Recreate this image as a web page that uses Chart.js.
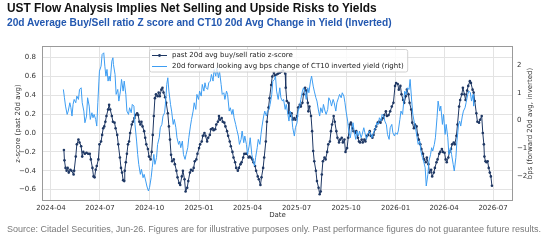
<!DOCTYPE html>
<html><head><meta charset="utf-8">
<script src="https://cdn.jsdelivr.net/npm/chart.js@4.4.1/dist/chart.umd.min.js"></script>
<style>
html,body{margin:0;padding:0;background:#fff;}
#wrap{position:relative;width:550px;height:249px;overflow:hidden;background:#fff;}
canvas{position:absolute;left:0;top:0;}
.t{position:absolute;left:7px;white-space:nowrap;line-height:1;font-family:"Liberation Sans",Arial,sans-serif;}
#title{font-weight:bold;color:#111;}
#sub{font-weight:bold;color:#2358b0;}
#foot{color:#7a7a7a;}
</style></head>
<body><div id="wrap"><canvas id="c" width="550" height="249"></canvas>
<div class="t" id="title">UST Flow Analysis Implies Net Selling and Upside Risks to Yields</div>
<div class="t" id="sub">20d Average Buy/Sell ratio Z score and CT10 20d Avg Change in Yield (Inverted)</div>
<div class="t" id="foot">Source: Citadel Securities, Jun-26. Figures are for illustrative purposes only. Past performance figures do not guarantee future results.</div>
</div>
<script>
const xTickLabels = ['2024-04','2024-07','2024-10','2025-01','2025-04','2025-07','2025-10','2026-01','2026-04','2026-07'];
const leftTicks = [-0.6,-0.4,-0.2,0.0,0.2,0.4,0.6,0.8];
const rightTicks = [-2,-1,0,1,2];

const darkDates = ['2024-04-25','2024-04-26','2024-04-28','2024-04-30','2024-05-02','2024-05-04','2024-05-07','2024-05-09','2024-05-13','2024-05-14','2024-05-17','2024-05-19','2024-05-22','2024-05-24','2024-05-27','2024-05-29','2024-05-31','2024-06-03','2024-06-06','2024-06-09','2024-06-12','2024-06-14','2024-06-17','2024-06-19','2024-06-21','2024-06-23','2024-06-25','2024-06-28','2024-06-30','2024-07-03','2024-07-05','2024-07-07','2024-07-09','2024-07-11','2024-07-13','2024-07-16','2024-07-18','2024-07-20','2024-07-23','2024-07-25','2024-07-28','2024-07-30','2024-08-02','2024-08-04','2024-08-07','2024-08-09','2024-08-11','2024-08-13','2024-08-15','2024-08-16','2024-08-18','2024-08-20','2024-08-22','2024-08-24','2024-08-26','2024-08-29','2024-08-31','2024-09-03','2024-09-05','2024-09-08','2024-09-10','2024-09-12','2024-09-14','2024-09-16','2024-09-18','2024-09-21','2024-09-23','2024-09-25','2024-09-28','2024-09-30','2024-10-03','2024-10-05','2024-10-07','2024-10-09','2024-10-11','2024-10-13','2024-10-16','2024-10-18','2024-10-20','2024-10-23','2024-10-25','2024-10-27','2024-10-30','2024-11-01','2024-11-04','2024-11-06','2024-11-08','2024-11-10','2024-11-12','2024-11-15','2024-11-17','2024-11-20','2024-11-22','2024-11-25','2024-11-27','2024-11-30','2024-12-02','2024-12-05','2024-12-07','2024-12-10','2024-12-12','2024-12-15','2024-12-17','2024-12-20','2024-12-22','2024-12-24','2024-12-27','2024-12-29','2025-01-01','2025-01-03','2025-01-06','2025-01-08','2025-01-11','2025-01-13','2025-01-16','2025-01-18','2025-01-21','2025-01-23','2025-01-26','2025-01-28','2025-01-31','2025-02-02','2025-02-05','2025-02-07','2025-02-09','2025-02-12','2025-02-14','2025-02-17','2025-02-19','2025-02-22','2025-02-24','2025-02-27','2025-03-01','2025-03-04','2025-03-06','2025-03-09','2025-03-11','2025-03-14','2025-03-16','2025-03-19','2025-03-21','2025-03-24','2025-03-26','2025-03-29','2025-03-31','2025-04-03','2025-04-05','2025-04-07','2025-04-10','2025-04-12','2025-04-15','2025-04-17','2025-04-20','2025-04-22','2025-04-25','2025-04-27','2025-04-30','2025-05-02','2025-05-05','2025-05-07','2025-05-10','2025-05-12','2025-05-15','2025-05-17','2025-05-20','2025-05-22','2025-05-25','2025-05-28','2025-05-31','2025-06-03','2025-06-06','2025-06-10','2025-06-11','2025-06-13','2025-06-16','2025-06-17','2025-06-19','2025-06-22','2025-06-24','2025-06-27','2025-06-29','2025-07-02','2025-07-04','2025-07-07','2025-07-09','2025-07-12','2025-07-14','2025-07-17','2025-07-19','2025-07-22','2025-07-23','2025-07-25','2025-07-28','2025-07-30','2025-08-01','2025-08-03','2025-08-06','2025-08-08','2025-08-11','2025-08-13','2025-08-15','2025-08-17','2025-08-19','2025-08-22','2025-08-24','2025-08-27','2025-08-29','2025-09-01','2025-09-03','2025-09-05','2025-09-08','2025-09-10','2025-09-13','2025-09-15','2025-09-18','2025-09-20','2025-09-23','2025-09-25','2025-09-28','2025-09-30','2025-10-03','2025-10-05','2025-10-08','2025-10-10','2025-10-13','2025-10-15','2025-10-18','2025-10-20','2025-10-23','2025-10-25','2025-10-27','2025-10-30','2025-11-01','2025-11-04','2025-11-06','2025-11-09','2025-11-11','2025-11-14','2025-11-16','2025-11-19','2025-11-21','2025-11-24','2025-11-26','2025-11-29','2025-12-01','2025-12-04','2025-12-06','2025-12-09','2025-12-11','2025-12-14','2025-12-16','2025-12-19','2025-12-22','2025-12-25','2025-12-28','2025-12-31','2026-01-02','2026-01-05','2026-01-07','2026-01-10','2026-01-12','2026-01-15','2026-01-17','2026-01-20','2026-01-22','2026-01-25','2026-01-27','2026-01-30','2026-02-01','2026-02-04','2026-02-06','2026-02-09','2026-02-11','2026-02-13','2026-02-16','2026-02-18','2026-02-21','2026-02-23','2026-02-26','2026-02-28','2026-03-03','2026-03-05','2026-03-08','2026-03-10','2026-03-13','2026-03-15','2026-03-18','2026-03-20','2026-03-23','2026-03-25','2026-03-28','2026-03-30','2026-04-02','2026-04-04','2026-04-06','2026-04-09','2026-04-11','2026-04-14','2026-04-16','2026-04-19','2026-04-21','2026-04-24','2026-04-26','2026-04-29','2026-05-01','2026-05-04','2026-05-06','2026-05-09','2026-05-11','2026-05-14','2026-05-16','2026-05-19','2026-05-21','2026-05-24','2026-05-26','2026-05-28','2026-05-31','2026-06-02','2026-06-05','2026-06-07','2026-06-10','2026-06-12','2026-06-14','2026-06-15','2026-06-17','2026-06-19','2026-06-21','2026-06-23','2026-06-25','2026-06-27','2026-06-29'];
const darkValues = [-0.18,-0.29,-0.37,-0.40,-0.37,-0.42,-0.39,-0.40,-0.44,-0.40,-0.25,-0.12,-0.07,-0.10,-0.14,-0.25,-0.20,-0.22,-0.21,-0.22,-0.22,-0.28,-0.37,-0.46,-0.47,-0.39,-0.35,-0.28,-0.12,-0.09,-0.02,0.05,0.07,0.12,0.18,0.25,0.30,0.25,0.18,0.12,0.11,0.05,-0.02,-0.12,-0.26,-0.37,-0.42,-0.50,-0.51,-0.40,-0.31,-0.22,-0.12,-0.09,0.00,0.09,0.12,0.16,0.19,0.21,0.19,0.12,0.09,0.12,0.07,0.02,-0.05,-0.12,-0.17,-0.25,-0.28,-0.20,-0.02,0.18,0.37,0.41,0.39,0.43,0.39,0.46,0.48,0.43,0.38,0.32,0.21,0.07,-0.07,-0.23,-0.30,-0.28,-0.33,-0.40,-0.47,-0.53,-0.55,-0.46,-0.40,-0.49,-0.62,-0.58,-0.51,-0.42,-0.39,-0.40,-0.37,-0.30,-0.28,-0.22,-0.16,-0.12,-0.09,-0.03,0.00,-0.03,-0.09,-0.05,-0.02,0.04,0.05,0.03,0.04,0.09,0.12,0.18,0.14,0.16,0.12,0.11,0.07,0.02,-0.03,-0.09,-0.14,-0.20,-0.26,-0.31,-0.37,-0.40,-0.37,-0.33,-0.31,-0.26,-0.22,-0.22,-0.22,-0.26,-0.25,-0.26,-0.28,-0.31,-0.35,-0.40,-0.46,-0.49,-0.55,-0.47,-0.37,-0.26,-0.09,0.12,0.27,0.37,0.51,0.60,0.64,0.61,0.62,0.63,0.64,0.65,0.66,0.63,0.48,0.34,0.32,0.21,0.18,0.21,0.14,0.16,0.14,0.18,0.27,0.30,0.28,0.32,0.41,0.48,0.45,0.32,0.23,0.28,0.18,0.02,-0.19,-0.30,-0.40,-0.51,-0.58,-0.65,-0.62,-0.44,-0.30,-0.26,-0.28,-0.20,-0.12,-0.09,0.02,0.09,0.18,0.12,0.02,-0.05,-0.10,-0.07,-0.05,-0.10,-0.07,-0.20,-0.16,-0.05,0.09,0.11,0.05,0.02,0.00,0.02,-0.05,-0.09,-0.10,-0.07,-0.10,-0.07,-0.09,-0.03,-0.02,0.02,-0.03,-0.05,-0.02,0.04,0.07,0.11,0.12,0.11,0.14,0.16,0.19,0.23,0.18,0.19,0.23,0.28,0.32,0.50,0.53,0.52,0.46,0.50,0.41,0.35,0.32,0.39,0.46,0.41,0.32,0.25,0.11,0.05,0.09,0.07,-0.02,-0.07,-0.12,-0.17,-0.22,-0.28,-0.31,-0.26,-0.33,-0.42,-0.39,-0.46,-0.42,-0.37,-0.31,-0.28,-0.22,-0.20,-0.17,-0.20,-0.21,-0.28,-0.31,-0.26,-0.20,-0.17,-0.12,-0.10,-0.12,-0.03,0.09,0.28,0.35,0.41,0.48,0.41,0.35,0.45,0.50,0.55,0.53,0.46,0.43,0.34,0.21,0.12,0.11,0.14,0.18,0.00,-0.12,-0.25,-0.30,-0.31,-0.30,-0.37,-0.42,-0.46,-0.56];

const lightDates = ['2024-04-24','2024-04-26','2024-04-28','2024-05-01','2024-05-03','2024-05-06','2024-05-08','2024-05-10','2024-05-12','2024-05-14','2024-05-17','2024-05-19','2024-05-22','2024-05-24','2024-05-27','2024-05-29','2024-06-01','2024-06-03','2024-06-06','2024-06-08','2024-06-11','2024-06-13','2024-06-16','2024-06-18','2024-06-20','2024-06-23','2024-06-25','2024-06-27','2024-06-29','2024-06-30','2024-07-03','2024-07-05','2024-07-08','2024-07-10','2024-07-12','2024-07-14','2024-07-16','2024-07-18','2024-07-20','2024-07-23','2024-07-25','2024-07-26','2024-07-29','2024-07-31','2024-08-03','2024-08-05','2024-08-08','2024-08-10','2024-08-13','2024-08-15','2024-08-18','2024-08-20','2024-08-23','2024-08-25','2024-08-28','2024-08-30','2024-09-02','2024-09-04','2024-09-07','2024-09-09','2024-09-11','2024-09-14','2024-09-16','2024-09-19','2024-09-21','2024-09-24','2024-09-26','2024-09-29','2024-10-01','2024-10-04','2024-10-06','2024-10-09','2024-10-11','2024-10-14','2024-10-16','2024-10-19','2024-10-21','2024-10-24','2024-10-26','2024-10-29','2024-10-31','2024-11-02','2024-11-04','2024-11-06','2024-11-09','2024-11-11','2024-11-14','2024-11-16','2024-11-19','2024-11-21','2024-11-24','2024-11-26','2024-11-28','2024-12-01','2024-12-03','2024-12-06','2024-12-08','2024-12-11','2024-12-13','2024-12-16','2024-12-18','2024-12-21','2024-12-23','2024-12-26','2024-12-28','2024-12-31','2025-01-02','2025-01-05','2025-01-07','2025-01-10','2025-01-12','2025-01-14','2025-01-17','2025-01-19','2025-01-22','2025-01-24','2025-01-27','2025-01-29','2025-02-01','2025-02-03','2025-02-06','2025-02-08','2025-02-11','2025-02-13','2025-02-16','2025-02-18','2025-02-21','2025-02-23','2025-02-26','2025-02-28','2025-03-03','2025-03-05','2025-03-07','2025-03-10','2025-03-12','2025-03-15','2025-03-17','2025-03-20','2025-03-22','2025-03-25','2025-03-27','2025-03-30','2025-04-01','2025-04-04','2025-04-06','2025-04-09','2025-04-11','2025-04-14','2025-04-16','2025-04-19','2025-04-21','2025-04-24','2025-04-26','2025-04-28','2025-05-01','2025-05-03','2025-05-06','2025-05-08','2025-05-11','2025-05-13','2025-05-16','2025-05-18','2025-05-21','2025-05-23','2025-05-25','2025-05-28','2025-05-31','2025-06-02','2025-06-05','2025-06-07','2025-06-10','2025-06-12','2025-06-15','2025-06-17','2025-06-19','2025-06-22','2025-06-24','2025-06-27','2025-06-29','2025-07-02','2025-07-04','2025-07-07','2025-07-09','2025-07-12','2025-07-14','2025-07-17','2025-07-19','2025-07-22','2025-07-24','2025-07-27','2025-07-29','2025-08-01','2025-08-03','2025-08-06','2025-08-08','2025-08-11','2025-08-13','2025-08-15','2025-08-18','2025-08-20','2025-08-23','2025-08-25','2025-08-28','2025-08-30','2025-09-02','2025-09-04','2025-09-07','2025-09-09','2025-09-12','2025-09-14','2025-09-17','2025-09-19','2025-09-22','2025-09-24','2025-09-27','2025-09-29','2025-10-01','2025-10-04','2025-10-06','2025-10-09','2025-10-11','2025-10-14','2025-10-16','2025-10-19','2025-10-21','2025-10-24','2025-10-26','2025-10-29','2025-10-31','2025-11-03','2025-11-05','2025-11-08','2025-11-10','2025-11-13','2025-11-15','2025-11-18','2025-11-20','2025-11-22','2025-11-25','2025-11-27','2025-11-30','2025-12-02','2025-12-05','2025-12-07','2025-12-10','2025-12-12','2025-12-15','2025-12-17','2025-12-20','2025-12-22','2025-12-25','2025-12-27','2025-12-30','2026-01-01','2026-01-04','2026-01-06','2026-01-09','2026-01-11','2026-01-14','2026-01-16','2026-01-18','2026-01-21','2026-01-23','2026-01-26','2026-01-28','2026-01-31','2026-02-02','2026-02-05','2026-02-07','2026-02-10','2026-02-12','2026-02-15','2026-02-17','2026-02-20','2026-02-22','2026-02-25','2026-02-27','2026-03-02','2026-03-04','2026-03-07','2026-03-09','2026-03-11','2026-03-14','2026-03-16','2026-03-19','2026-03-21','2026-03-24','2026-03-26','2026-03-29','2026-03-31','2026-04-03','2026-04-05','2026-04-08','2026-04-10','2026-04-13','2026-04-15','2026-04-18','2026-04-20','2026-04-23','2026-04-25','2026-04-28','2026-04-30','2026-05-02','2026-05-05','2026-05-07','2026-05-10','2026-05-12','2026-05-15','2026-05-17','2026-05-20','2026-05-22','2026-05-25','2026-05-26'];
const lightValues = [1.12,0.82,0.52,0.22,0.34,0.64,0.46,0.16,0.58,0.76,0.64,0.88,0.76,1.12,1.18,0.64,0.34,-0.08,0.16,0.82,0.52,0.04,0.28,0.10,0.22,0.04,-0.20,0.64,1.42,1.78,1.96,2.38,2.44,1.96,1.60,1.84,1.42,1.60,1.42,2.14,2.26,2.02,1.66,0.94,1.12,0.70,1.06,1.48,1.06,1.42,0.94,0.34,0.22,0.46,0.28,0.58,0.52,-0.14,-0.74,-1.22,-1.58,-1.94,-1.76,-2.06,-1.94,-2.18,-2.36,-2.54,-2.42,-2.06,-1.70,-1.22,-1.58,-1.34,-0.86,-0.62,-0.26,-0.14,0.16,0.28,0.70,1.30,1.54,1.06,0.58,0.34,-0.14,0.04,-0.26,-0.62,-0.86,-0.74,-0.98,-0.74,-1.22,-1.40,-1.22,-0.98,-0.62,-0.20,0.04,0.34,0.64,0.40,0.94,0.76,1.06,0.88,1.30,1.06,1.36,1.18,1.12,1.36,1.42,1.66,1.42,1.84,1.60,1.90,1.54,1.78,1.30,0.94,1.00,0.76,1.06,0.94,0.34,0.46,0.22,0.40,0.10,-0.14,-0.32,-0.56,-0.86,-0.68,-0.38,-0.80,-0.56,-0.86,-1.22,-0.92,-0.62,-1.22,-1.40,-1.64,-1.34,-0.98,-0.68,-0.86,-0.50,-0.20,0.16,0.34,0.16,0.34,0.40,0.58,0.94,1.42,1.48,1.60,1.06,0.76,1.18,0.82,0.70,0.76,0.40,0.58,0.22,-0.02,0.34,0.16,-0.26,-0.56,-0.26,-0.08,0.34,0.52,0.76,1.06,1.18,1.00,0.76,1.18,1.00,1.42,1.60,1.24,1.06,0.82,0.70,0.34,0.16,0.46,0.28,0.58,0.34,0.22,0.40,0.82,0.70,0.52,0.76,0.64,0.34,0.64,0.82,0.94,0.82,1.00,0.88,0.64,0.34,-0.02,-0.38,-0.62,-0.32,-0.08,-0.38,-0.68,-0.38,-0.56,-0.38,-0.62,-0.50,-0.26,-0.44,-0.68,-0.50,-0.38,-0.44,-0.62,-0.50,-0.38,-0.26,-0.08,-0.14,0.10,-0.02,0.22,0.16,-0.02,-0.15,-0.50,-0.68,-0.26,-0.14,-0.44,-0.56,-0.44,-0.50,-0.38,0.04,0.34,0.22,0.64,1.06,0.94,1.18,1.12,1.48,0.70,0.22,-0.08,-0.26,-0.62,-0.86,-0.74,-1.10,-1.34,-1.46,-1.70,-2.36,-1.94,-1.46,-1.22,-0.98,-1.10,-0.86,-0.62,0.10,0.70,0.34,0.52,-0.14,0.22,-0.50,-0.14,-0.62,-1.22,-0.98,-1.22,-1.58,-1.82,-1.34,-0.74,-0.14,-0.02,-0.20,0.16,0.34,0.46,0.64,0.94,1.06,1.00,0.70,0.94,0.52];

const darkLabel = 'past 20d avg buy/sell ratio z-score';
const lightLabel = '20d forward looking avg bps change of CT10 inverted yield (right)';
const leftTitle = 'z-score (past 20d avg)';
const rightTitle = 'bps (forward 20d avg, inverted)';
const darkColor = '#1f3864';
const lightColor = '#3d9df2';

const t0 = Date.parse('2024-04-01T00:00:00Z');
const dayOf = s => (Date.parse(s + 'T00:00:00Z') - t0) / 86400000;
const toXY = (ds, vs) => ds.map((d, i) => ({x: dayOf(d), y: vs[i]}));
const fmt = (v, dec) => (v < -1e-9 ? '\u2212' : '') + Math.abs(v).toFixed(dec);

function fit(id, width, baseline) {
  const el = document.getElementById(id);
  el.style.fontSize = '20px';
  const w = el.getBoundingClientRect().width;
  const s = 20 * width / w;
  el.style.fontSize = s + 'px';
  el.style.top = (baseline - 0.8465 * s) + 'px';
}
fit('title', 370, 13.3);
fit('sub', 385, 26.3);
fit('foot', 535, 233);

const FONT = {family: '"DejaVu Sans", sans-serif', size: 7};
const TXT = '#333';

const frameLegend = {
  id: 'frameLegend',
  afterDraw(chart) {
    const {ctx, chartArea: a} = chart;
    ctx.save();
    ctx.strokeStyle = '#9a9a9a';
    ctx.lineWidth = 1;
    ctx.strokeRect(a.left + 0.5, a.top + 0.5, a.right - a.left - 1, a.bottom - a.top - 1);
    // right axis title, reading bottom to top
    ctx.font = '7px "DejaVu Sans", sans-serif';
    ctx.fillStyle = TXT;
    ctx.save();
    ctx.translate(530.5, (a.top + a.bottom) / 2);
    ctx.rotate(-Math.PI / 2);
    ctx.textAlign = 'center';
    ctx.textBaseline = 'middle';
    ctx.fillText(rightTitle, 0, 0);
    ctx.restore();
    // legend
    const tw = Math.max(ctx.measureText(darkLabel).width, ctx.measureText(lightLabel).width);
    const bx = 149.5, by = 49.5, bw = 172 - 149.5 + tw + 4, bh = 22.5;
    ctx.beginPath();
    if (ctx.roundRect) ctx.roundRect(bx, by, bw, bh, 2); else ctx.rect(bx, by, bw, bh);
    ctx.fillStyle = 'rgba(255,255,255,0.8)';
    ctx.fill();
    ctx.strokeStyle = '#d0d0d0';
    ctx.stroke();
    const r1 = 55.5, r2 = 66.5;
    ctx.lineWidth = 1;
    ctx.strokeStyle = darkColor;
    ctx.beginPath(); ctx.moveTo(152, r1); ctx.lineTo(167, r1); ctx.stroke();
    ctx.fillStyle = darkColor;
    ctx.beginPath(); ctx.arc(159.5, r1, 1.4, 0, Math.PI * 2); ctx.fill();
    ctx.strokeStyle = lightColor;
    ctx.beginPath(); ctx.moveTo(152, r2); ctx.lineTo(167, r2); ctx.stroke();
    ctx.fillStyle = '#222';
    ctx.textBaseline = 'middle';
    ctx.textAlign = 'left';
    ctx.fillText(darkLabel, 172, r1);
    ctx.fillText(lightLabel, 172, r2);
    ctx.restore();
  }
};

new Chart(document.getElementById('c').getContext('2d'), {
  type: 'line',
  data: {datasets: [
    {label: lightLabel, data: toXY(lightDates, lightValues), yAxisID: 'yR', borderColor: lightColor, borderWidth: 1, pointRadius: 0, tension: 0, order: 0},
    {label: darkLabel, data: toXY(darkDates, darkValues), yAxisID: 'yL', borderColor: darkColor, backgroundColor: darkColor, borderWidth: 1, pointRadius: 1.3, pointBorderWidth: 0, pointBackgroundColor: darkColor, tension: 0, order: 1}
  ]},
  options: {
    responsive: false, animation: false, devicePixelRatio: 1,
    layout: {padding: {top: 46, left: 0, right: 0, bottom: 0}},
    plugins: {legend: {display: false}, tooltip: {enabled: false}},
    scales: {
      x: {
        type: 'linear', min: -16.7, max: 858.1,
        afterBuildTicks: s => { s.ticks = xTickLabels.map(l => ({value: dayOf(l + '-01')})); },
        ticks: {callback: (v, i) => xTickLabels[i], font: FONT, color: TXT, padding: 3, maxRotation: 0, autoSkip: false},
        grid: {color: '#e3e3e3', drawTicks: false},
        border: {display: false},
        title: {display: true, text: 'Date', font: FONT, color: TXT, padding: {top: 0, bottom: 30}},
        afterFit: s => { s.height = 48; }
      },
      yL: {
        position: 'left', min: -0.721, max: 0.923,
        afterBuildTicks: s => { s.ticks = leftTicks.map(v => ({value: v})); },
        ticks: {callback: v => fmt(v, 1), font: FONT, color: TXT, padding: 6},
        grid: {color: '#e3e3e3', drawTicks: false},
        border: {display: false},
        title: {display: true, text: leftTitle, font: FONT, color: TXT, padding: {top: 14, bottom: 0}},
        afterFit: s => { s.width = 42; }
      },
      yR: {
        position: 'right', min: -2.90, max: 2.685,
        afterBuildTicks: s => { s.ticks = rightTicks.map(v => ({value: v})); },
        ticks: {callback: v => fmt(v, 0), font: FONT, color: TXT, padding: 4},
        grid: {display: false, drawTicks: false},
        border: {display: false},
        title: {display: false},
        afterFit: s => { s.width = 37; }
      }
    }
  },
  plugins: [frameLegend]
});
</script>
</body></html>
